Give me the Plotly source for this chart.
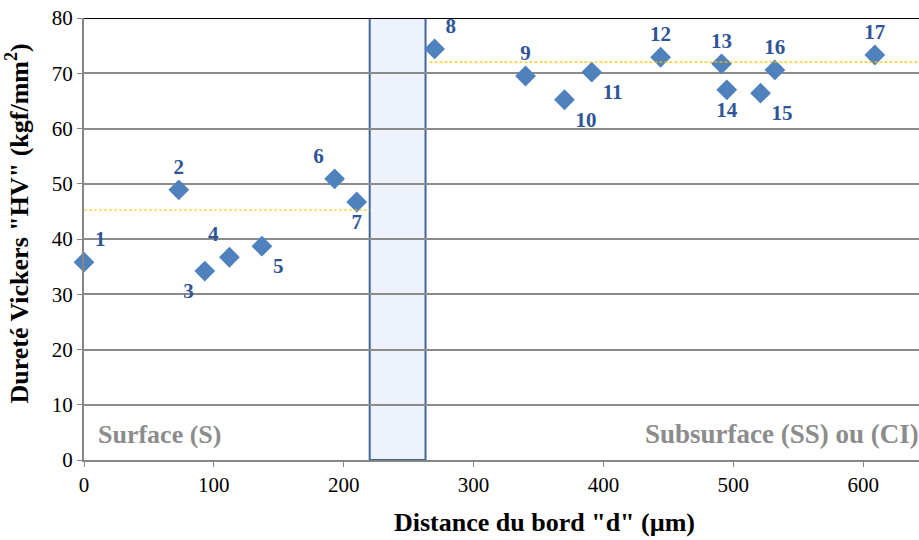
import plotly.graph_objects as go

distance = [0, 73, 93, 112, 137, 193, 210, 270, 340, 370, 391, 444, 491, 495, 521, 532, 609]
hardness = [35.8, 48.9, 34.2, 36.7, 38.7, 50.9, 46.7, 74.4, 69.5, 65.2, 70.2, 72.9, 71.7, 67.0, 66.4, 70.6, 73.3]
labels = [str(i) for i in range(1, 18)]
label_pos = ["top right", "top center", "bottom left", "top left", "bottom right", "top left",
             "bottom center", "top right", "top center", "bottom right", "bottom right",
             "top center", "top center", "bottom center", "bottom right", "top center", "top center"]
mean_surface = 45.25
mean_sub = 72.0
zone_start, zone_end = 220, 263
x_max = 643

SERIF = "Liberation Serif, Times New Roman, serif"

fig = go.Figure()
fig.add_trace(go.Scatter(
    x=distance, y=hardness, mode="markers+text", text=["<b>%s</b>" % t for t in labels],
    textposition=label_pos,
    marker=dict(symbol="diamond", size=16, color="#4F81BD"),
    textfont=dict(family=SERIF, size=21, color="#2F5597"),
    cliponaxis=False, showlegend=False))
fig.add_trace(go.Scatter(x=[0, zone_start], y=[mean_surface, mean_surface], mode="lines",
                         line=dict(color="#FFC000", width=1.2, dash="3px,2px"), showlegend=False, hoverinfo="skip"))
fig.add_trace(go.Scatter(x=[zone_end + 3, x_max], y=[mean_sub, mean_sub], mode="lines",
                         line=dict(color="#FFC000", width=1.2, dash="3px,2px"), showlegend=False, hoverinfo="skip"))

fig.add_shape(type="rect", x0=zone_start, x1=zone_end, y0=0, y1=80, layer="below",
              fillcolor="#EEF3FB", line=dict(color="#41679A", width=2))
fig.add_shape(type="line", x0=0, x1=x_max, y0=80, y1=80, line=dict(color="black", width=2))

fig.add_annotation(x=9, y=4.7, text="<b>Surface (S)</b>", showarrow=False, xanchor="left",
                   font=dict(family=SERIF, size=26, color="#8C8C8C"))
fig.add_annotation(x=x_max - 1, y=4.7, text="<b>Subsurface (SS) ou (CI)</b>", showarrow=False, xanchor="right",
                   xshift=3, font=dict(family=SERIF, size=27, color="#8C8C8C"))

# axis titles
fig.add_annotation(xref="paper", yref="paper", x=0.551, y=0, yanchor="top", yshift=-46,
                   text="<b>Distance du bord \"d\" (µm)</b>", showarrow=False,
                   font=dict(family=SERIF, size=26, color="black"))
fig.add_annotation(xref="paper", yref="paper", x=0, y=0.535, xanchor="center", xshift=-66,
                   textangle=-90, text="<b>Dureté Vickers \"HV\" (kgf/mm<sup>2</sup>)</b>", showarrow=False,
                   font=dict(family=SERIF, size=26, color="black"))

fig.update_layout(
    width=919, height=540, margin=dict(l=84, r=0, t=18, b=80),
    plot_bgcolor="white", paper_bgcolor="white",
    font=dict(family=SERIF, size=21, color="black"),
    xaxis=dict(range=[0, x_max], tickvals=[0, 100, 200, 300, 400, 500, 600], showgrid=False,
               showline=True, linecolor="#868686", linewidth=2, ticks="outside", tickcolor="#868686",
               ticklen=5, zeroline=False, automargin=False, ticklabeloverflow="allow"),
    yaxis=dict(range=[0, 80], tickvals=list(range(0, 81, 10)), showgrid=True, gridcolor="#8C8C8C",
               gridwidth=1.5, showline=True, linecolor="#868686", linewidth=2, ticks="outside",
               tickcolor="#868686", ticklen=5, zeroline=False, automargin=False, ticklabeloverflow="allow"),
)
fig.write_html("out.html", config={"displayModeBar": False},
               post_script="document.body.style.margin='0';document.body.style.overflow='hidden';")
